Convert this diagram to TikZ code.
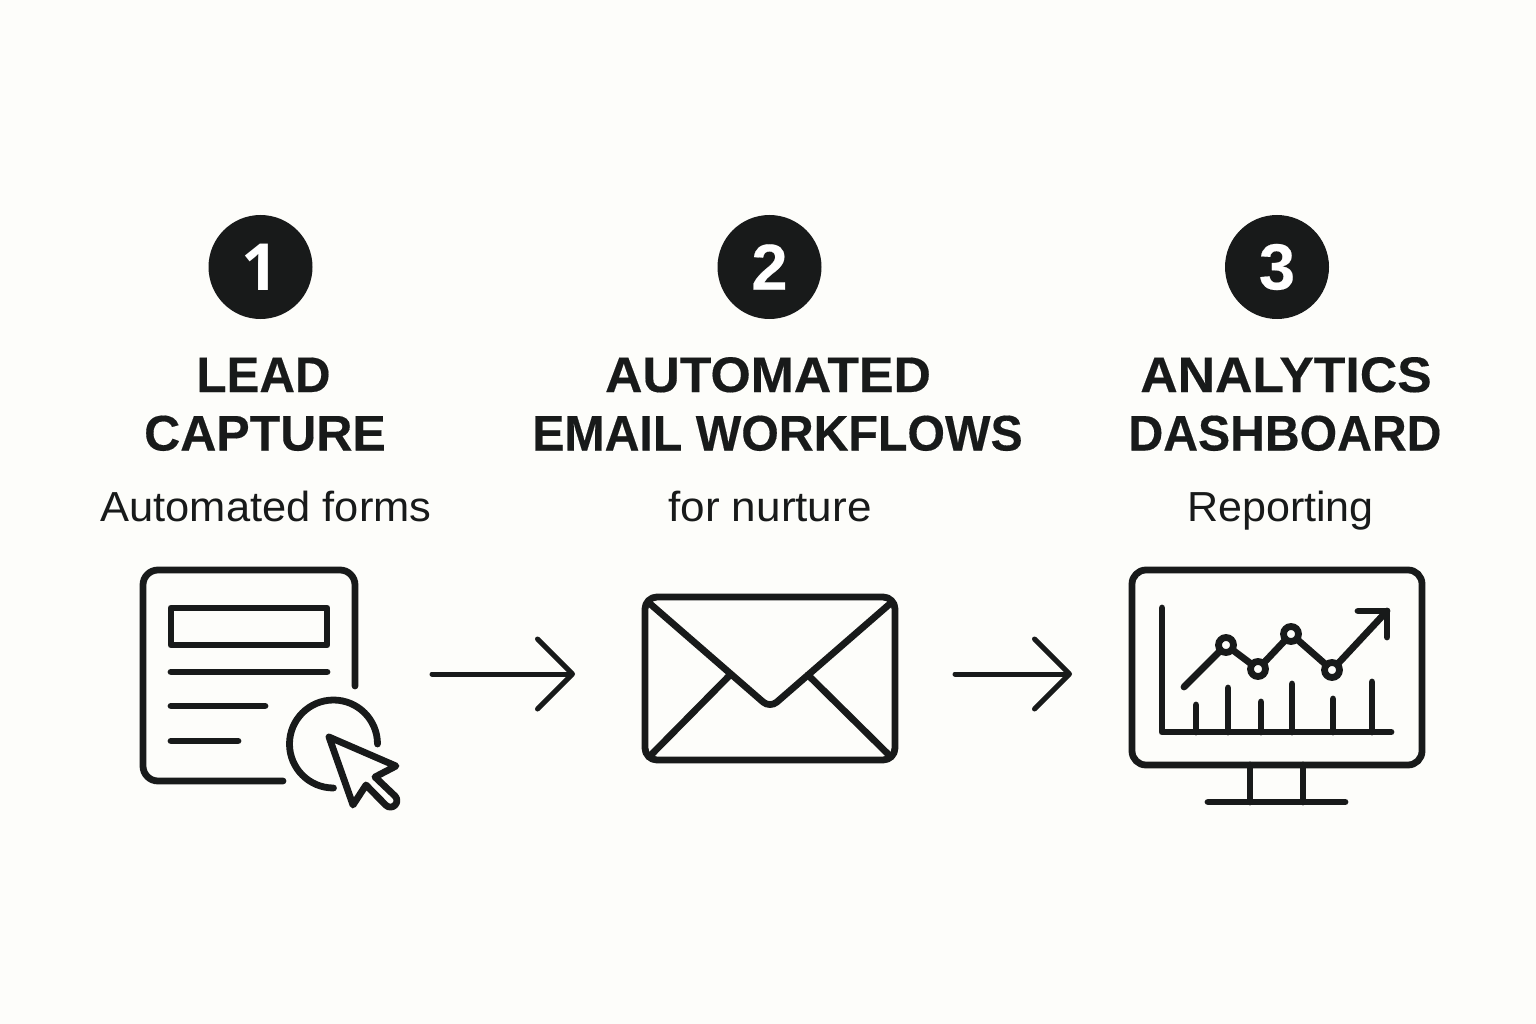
\documentclass[tikz,border=0pt]{standalone}
\usepackage{fontspec}
\setmainfont[BoldFeatures={FakeBold=0.3}]{Liberation Sans}
\newfontfamily\digitfont{Open Sans}
\usetikzlibrary{arrows.meta}
\definecolor{ink}{HTML}{181A1A}
\definecolor{paper}{HTML}{FDFDFA}
\tikzset{
  icon/.style={draw=ink,line width=6.8pt,line cap=round,line join=round},
  badge/.style={circle,fill=ink,text=white,minimum size=104pt,inner sep=0pt,font=\fontsize{65}{65}\selectfont\bfseries},
  headline/.style={text=ink,font=\fontsize{50}{58}\selectfont\bfseries,anchor=base,inner sep=0pt},
  subline/.style={text=ink,font=\fontsize{42}{48}\selectfont,anchor=base,inner sep=0pt},
  flow/.style={draw=ink,line width=5pt,line cap=round,line join=round,-{Straight Barb[length=35pt,width=70pt,line width=5pt,round]}},
  dot/.style={circle,draw=ink,fill=paper,line width=6.8pt,minimum size=15pt,inner sep=0pt}
}
\begin{document}
\begin{tikzpicture}[x=1pt,y=-1pt]
\useasboundingbox (0,0) rectangle (1536,1024);
\fill[paper] (0,0) rectangle (1536,1024);
% badges
\node[badge] (b1) at (260.5,267) {\digitfont 1};
\node[badge] (b2) at (769.5,267) {2};
\node[badge] (b3) at (1277,267) {3};
% titles
\node[headline] (t1a) at (263.5,392) {\scalebox{0.985}[1]{LEAD}};
\node[headline] (t1b) at (265,450.5) {CAPTURE};
\node[headline] (t2a) at (768,392) {\scalebox{1.035}[1]{AUTOMATED}};
\node[headline] (t2b) at (777.5,450.5) {\scalebox{0.965}[1]{EMAIL WORKFLOWS}};
\node[headline] (t3a) at (1286,392) {\scalebox{1.035}[1]{ANALYTICS}};
\node[headline] (t3b) at (1285,450.5) {\scalebox{0.963}[1]{DASHBOARD}};
\node[subline] (s1) at (266,521) {\scalebox{1.035}[1]{Automated forms}};
\node[subline] (s2) at (770,521) {\scalebox{1.05}[1]{for nurture}};
\node[subline] (s3) at (1280.5,521) {\scalebox{1.025}[1]{Reporting}};
% form icon
\draw[icon] (355,686) -- (355,585) arc[start angle=0,end angle=-90,radius=15] -- (158,570) arc[start angle=-90,end angle=-180,radius=15] -- (143,766) arc[start angle=180,end angle=90,radius=15] -- (283,781);
\draw[icon] (171,608) rectangle (327,645);
\draw[icon] (171,672) -- (327,672);
\draw[icon] (171,706) -- (265,706);
\draw[icon] (171,741) -- (238,741);
\draw[icon] (377.5,744) arc[start angle=0,end angle=-270,radius=44];
\draw[icon] (329,737) -- (396,766) -- (375,777) -- (395,796) arc[start angle=-45,end angle=135,radius=6.5] -- (366,785) -- (353,805) -- cycle;
% envelope
\draw[icon,rounded corners=12pt] (645,597) rectangle (895,760);
\draw[icon,rounded corners=9pt] (648,602) -- (770,708) -- (892,602);
\draw[icon] (730,675) -- (649,757);
\draw[icon] (808,675) -- (891,757);
% monitor
\draw[icon,rounded corners=14pt] (1132,570) rectangle (1422,765);
\draw[icon] (1250,765) -- (1250,802);
\draw[icon] (1303,765) -- (1303,802);
\draw[icon] (1208,802) -- (1345,802);
\draw[icon] (1162,608) -- (1162,732) -- (1391,732);
\foreach \x/\y in {1196/705,1228/688,1261/702,1292/684,1333/699,1372/682}
  \draw[icon] (\x,\y) -- (\x,732);
\draw[icon] (1184,687) -- (1226,645) -- (1258,669) -- (1291,634) -- (1332,670) -- (1387,611);
\draw[icon] (1358,611) -- (1387,611) -- (1387,637);
\node[dot] (d1) at (1226,645) {};
\node[dot] (d2) at (1258,669) {};
\node[dot] (d3) at (1291,634) {};
\node[dot] (d4) at (1332,670) {};
% connectors
\coordinate (a1s) at (432,674);
\coordinate (a1e) at (575,674);
\coordinate (a2s) at (955,674);
\coordinate (a2e) at (1072,674);
\draw[flow] (a1s) -- (a1e);
\draw[flow] (a2s) -- (a2e);
\end{tikzpicture}
\end{document}
